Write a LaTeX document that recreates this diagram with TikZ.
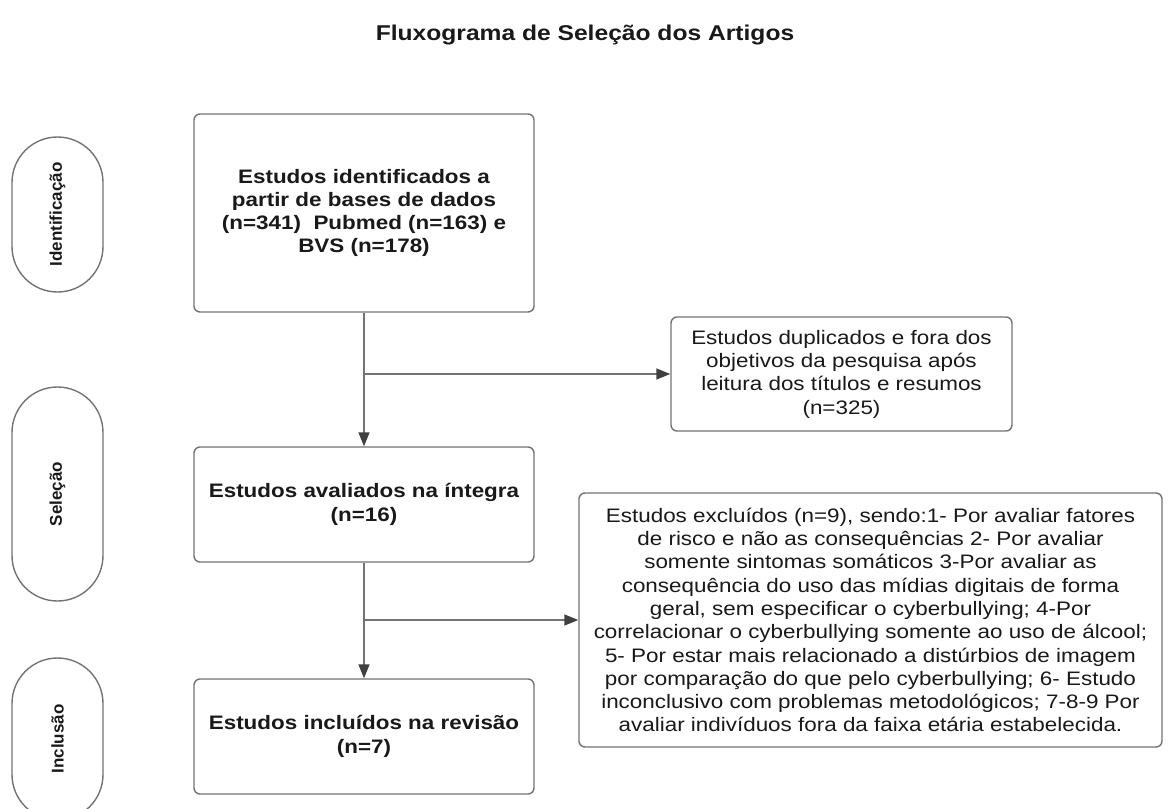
\documentclass[tikz,border=0pt]{standalone}
\usepackage{fontspec}
\setmainfont[FakeStretch=1.15]{Liberation Sans}
\newfontfamily\pillfont{Liberation Sans}
\usetikzlibrary{arrows.meta,shapes.misc}
\tikzset{
  box/.style={draw=black!55, line width=1.4pt, rounded corners=6pt, fill=white,
    align=center, text=black!90, inner sep=0pt,
    font=\fontsize{19.5}{23.3}\selectfont},
  boldbox/.style={box, font=\bfseries\fontsize{19.5}{23.3}\selectfont},
  pill/.style={draw=black!55, line width=1.4pt, rounded rectangle, rotate=90,
    minimum height=91pt, inner sep=0pt, text=black!90,
    font=\pillfont\bfseries\fontsize{17}{20}\selectfont},
  flow/.style={draw=black!55, line width=1.4pt,
    -{Triangle[length=14pt,width=11pt,color=black!75]}},
}

\begin{document}
\begin{tikzpicture}[x=1pt,y=-1pt]
		%%%%% START %%%%%
		\useasboundingbox (0,0) rectangle (1171,809);
		\clip (0,0) rectangle (1171,809);
		
		\node[text=black!90, font=\bfseries\fontsize{21.4}{26}\selectfont] (title) at (585,35) {Fluxograma de Seleção dos Artigos};
		
		% fases
		\node[pill, minimum width=155pt] (fident) at (57.5,214.5) {Identificação};
		\node[pill, minimum width=214pt] (fsel) at (57.5,494) {Seleção};
		\node[pill, minimum width=162pt] (fincl) at (57.5,739) {Inclusão};
		
		% caixas
		\node[boldbox, minimum width=340pt, minimum height=198pt] (ident) at (364,213) {Estudos identificados a\\partir de bases de dados\\(n=341)\ \ Pubmed (n=163) e\\BVS (n=178)};
		\node[box, minimum width=341pt, minimum height=114pt] (dup) at (841.5,374) {Estudos duplicados e fora dos\\objetivos da pesquisa após\\leitura dos títulos e resumos\\(n=325)};
		\node[boldbox, minimum width=340pt, minimum height=115pt] (aval) at (364,504.5) {Estudos avaliados na íntegra\\(n=16)};
		\node[box, minimum width=583pt, minimum height=254pt] (excl) at (870.5,620) {Estudos excluídos (n=9), sendo:1- Por avaliar fatores\\de risco e não as consequências 2- Por avaliar\\somente sintomas somáticos 3-Por avaliar as\\consequência do uso das mídias digitais de forma\\geral, sem especificar o cyberbullying; 4-Por\\correlacionar o cyberbullying somente ao uso de álcool;\\5- Por estar mais relacionado a distúrbios de imagem\\por comparação do que pelo cyberbullying; 6- Estudo\\inconclusivo com problemas metodológicos; 7-8-9 Por\\avaliar indivíduos fora da faixa etária estabelecida.};
		\node[boldbox, minimum width=340pt, minimum height=115pt] (incl) at (364,736.5) {Estudos incluídos na revisão\\(n=7)};
		
		% setas
		\coordinate (j1) at (ident.south |- dup.west);
		\coordinate (j2) at (aval.south |- excl.west);
		\draw[flow] (ident.south) -- (aval.north);
		\draw[flow] (j1) -- (dup.west);
		\draw[flow] (aval.south) -- (incl.north);
		\draw[flow] (j2) -- (excl.west);
		
		%%%%% END %%%%%
\end{tikzpicture}
\end{document}
